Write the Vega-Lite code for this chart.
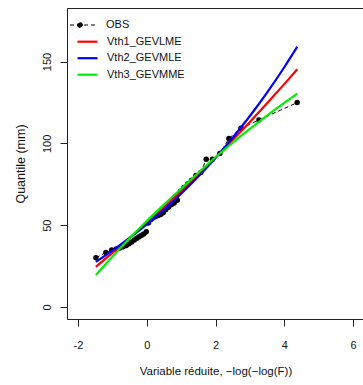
{
  "$schema": "https://vega.github.io/schema/vega-lite/v6.json",
  "width": 297,
  "height": 311,
  "autosize": {"type": "none"},
  "padding": {"left": 67, "top": 8, "right": 0, "bottom": 66},
  "background": "white",
  "config": {
    "view": {"stroke": "#222", "strokeWidth": 1},
    "font": "Liberation Sans",
    "axis": {"grid": false, "domain": false, "tickColor": "#222", "tickSize": 7, "labelFont": "Liberation Sans", "labelFontSize": 11, "labelColor": "#111", "titleFont": "Liberation Sans", "titleFontWeight": "normal", "titleColor": "#111"},
    "legend": {"labelFont": "Liberation Sans", "labelFontSize": 11, "labelColor": "#111", "padding": 0, "rowPadding": 4.5, "orient": "none"}
  },
  "datasets": {
    "obs": [
      {"series": "OBS", "x": -1.478, "y": 30.1},
      {"series": "OBS", "x": -1.189, "y": 33.3},
      {"series": "OBS", "x": -1.02, "y": 34.8},
      {"series": "OBS", "x": -0.89, "y": 35.5},
      {"series": "OBS", "x": -0.781, "y": 36.0},
      {"series": "OBS", "x": -0.685, "y": 36.8},
      {"series": "OBS", "x": -0.597, "y": 37.6},
      {"series": "OBS", "x": -0.515, "y": 38.6},
      {"series": "OBS", "x": -0.438, "y": 39.8},
      {"series": "OBS", "x": -0.363, "y": 41.0},
      {"series": "OBS", "x": -0.291, "y": 42.0},
      {"series": "OBS", "x": -0.22, "y": 43.0},
      {"series": "OBS", "x": -0.151, "y": 43.8},
      {"series": "OBS", "x": -0.083, "y": 44.6},
      {"series": "OBS", "x": -0.015, "y": 46.0},
      {"series": "OBS", "x": 0.053, "y": 51.5},
      {"series": "OBS", "x": 0.122, "y": 53.5},
      {"series": "OBS", "x": 0.19, "y": 54.5},
      {"series": "OBS", "x": 0.26, "y": 55.3},
      {"series": "OBS", "x": 0.331, "y": 56.0},
      {"series": "OBS", "x": 0.403, "y": 56.6},
      {"series": "OBS", "x": 0.477, "y": 57.6},
      {"series": "OBS", "x": 0.553, "y": 59.5},
      {"series": "OBS", "x": 0.631, "y": 61.0},
      {"series": "OBS", "x": 0.713, "y": 62.5},
      {"series": "OBS", "x": 0.798, "y": 63.6},
      {"series": "OBS", "x": 0.888, "y": 65.2},
      {"series": "OBS", "x": 0.982, "y": 70.8},
      {"series": "OBS", "x": 1.082, "y": 73.0},
      {"series": "OBS", "x": 1.189, "y": 75.2},
      {"series": "OBS", "x": 1.305, "y": 77.5},
      {"series": "OBS", "x": 1.431, "y": 80.3},
      {"series": "OBS", "x": 1.572, "y": 82.2},
      {"series": "OBS", "x": 1.73, "y": 90.3},
      {"series": "OBS", "x": 1.911, "y": 90.3},
      {"series": "OBS", "x": 2.126, "y": 93.8},
      {"series": "OBS", "x": 2.39, "y": 103.0},
      {"series": "OBS", "x": 2.741, "y": 109.2},
      {"series": "OBS", "x": 3.264, "y": 114.3},
      {"series": "OBS", "x": 4.376, "y": 124.9}
    ],
    "fits": [
      {"series": "Vth1_GEVLME", "x": -1.48, "y": 24.6},
      {"series": "Vth1_GEVLME", "x": -1.0, "y": 33.1},
      {"series": "Vth1_GEVLME", "x": -0.5, "y": 42.1},
      {"series": "Vth1_GEVLME", "x": 0.0, "y": 51.4},
      {"series": "Vth1_GEVLME", "x": 0.5, "y": 61.0},
      {"series": "Vth1_GEVLME", "x": 1.0, "y": 70.8},
      {"series": "Vth1_GEVLME", "x": 1.5, "y": 81.0},
      {"series": "Vth1_GEVLME", "x": 2.0, "y": 91.4},
      {"series": "Vth1_GEVLME", "x": 2.5, "y": 102.1},
      {"series": "Vth1_GEVLME", "x": 3.0, "y": 113.1},
      {"series": "Vth1_GEVLME", "x": 3.5, "y": 124.5},
      {"series": "Vth1_GEVLME", "x": 4.0, "y": 136.2},
      {"series": "Vth1_GEVLME", "x": 4.38, "y": 145.3},
      {"series": "Vth2_GEVMLE", "x": -1.48, "y": 27.6},
      {"series": "Vth2_GEVMLE", "x": -1.0, "y": 34.5},
      {"series": "Vth2_GEVMLE", "x": -0.5, "y": 42.2},
      {"series": "Vth2_GEVMLE", "x": 0.0, "y": 50.5},
      {"series": "Vth2_GEVMLE", "x": 0.5, "y": 59.5},
      {"series": "Vth2_GEVMLE", "x": 1.0, "y": 69.2},
      {"series": "Vth2_GEVMLE", "x": 1.5, "y": 79.7},
      {"series": "Vth2_GEVMLE", "x": 2.0, "y": 91.1},
      {"series": "Vth2_GEVMLE", "x": 2.5, "y": 103.4},
      {"series": "Vth2_GEVMLE", "x": 3.0, "y": 116.7},
      {"series": "Vth2_GEVMLE", "x": 3.5, "y": 131.0},
      {"series": "Vth2_GEVMLE", "x": 4.0, "y": 146.5},
      {"series": "Vth2_GEVMLE", "x": 4.38, "y": 159.1},
      {"series": "Vth3_GEVMME", "x": -1.48, "y": 19.5},
      {"series": "Vth3_GEVMME", "x": -1.0, "y": 30.7},
      {"series": "Vth3_GEVMME", "x": -0.5, "y": 42.0},
      {"series": "Vth3_GEVMME", "x": 0.0, "y": 52.6},
      {"series": "Vth3_GEVMME", "x": 0.5, "y": 62.6},
      {"series": "Vth3_GEVMME", "x": 1.0, "y": 72.3},
      {"series": "Vth3_GEVMME", "x": 1.5, "y": 82.0},
      {"series": "Vth3_GEVMME", "x": 2.0, "y": 91.5},
      {"series": "Vth3_GEVMME", "x": 2.5, "y": 100.5},
      {"series": "Vth3_GEVMME", "x": 3.0, "y": 108.9},
      {"series": "Vth3_GEVMME", "x": 3.5, "y": 117.0},
      {"series": "Vth3_GEVMME", "x": 4.0, "y": 124.7},
      {"series": "Vth3_GEVMME", "x": 4.38, "y": 130.4}
    ]
  },
  "encoding": {
    "x": {"field": "x", "type": "quantitative", "scale": {"domain": [-2.32, 6.32], "nice": false, "zero": false},
      "axis": {"values": [-2, 0, 2, 4, 6], "labelExpr": "'' + datum.value", "labelBaseline": "middle", "labelPadding": 19, "title": "Variable réduite, −log(−log(F))", "titleFontSize": 11.5, "titlePadding": 15}},
    "y": {"field": "y", "type": "quantitative", "scale": {"domain": [-7.3, 182.7], "nice": false, "zero": false},
      "axis": {"values": [0, 50, 100, 150], "labelAngle": 270, "labelAlign": "center", "labelBaseline": "middle", "labelPadding": 13, "title": "Quantile (mm)", "titleFontSize": 12.5, "titlePadding": 14}}
  },
  "layer": [
    {"data": {"name": "obs"}, "mark": {"type": "line", "strokeWidth": 1, "color": "#000000"},
      "encoding": {"strokeDash": {"datum": "OBS", "type": "nominal", "scale": {"range": [[4, 3]]},
        "legend": {"title": null, "legendX": 9.5, "legendY": 11.5, "symbolType": "M-2.4,0H2.8M-0.9,0A0.5,0.5 0 1,0 0.1,0A0.5,0.5 0 1,0 -0.9,0Z", "symbolSize": 100, "symbolStrokeWidth": 1, "symbolStrokeColor": "#000000", "symbolFillColor": "#000000", "labelOffset": 18.5}}}},
    {"data": {"name": "obs"}, "mark": {"type": "point", "filled": true, "size": 30, "opacity": 1, "color": "#000000"}},
    {"data": {"name": "fits"}, "mark": {"type": "line", "strokeWidth": 2.2, "interpolate": "monotone"},
      "encoding": {"color": {"field": "series", "type": "nominal",
        "scale": {"domain": ["Vth1_GEVLME", "Vth2_GEVMLE", "Vth3_GEVMME"], "range": ["#ff0000", "#0000ff", "#00ee00"]},
        "legend": {"title": null, "legendX": 9, "legendY": 27.2, "symbolType": "M-1,0H3", "symbolSize": 100, "symbolStrokeWidth": 2.2, "labelOffset": 18}}}}
  ]
}
